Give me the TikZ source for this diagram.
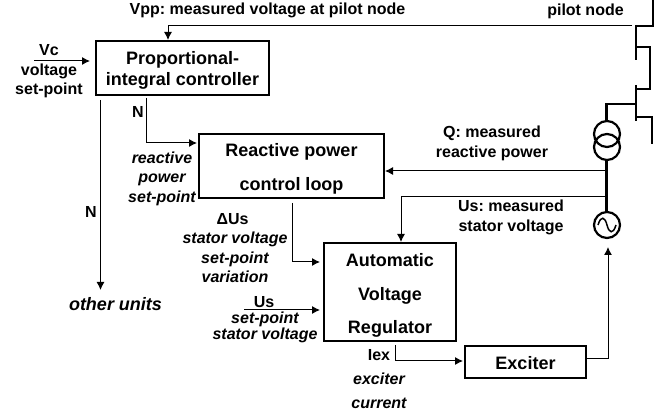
\documentclass[tikz,border=0pt]{standalone}
\usepackage{fontspec}
\setmainfont{Liberation Sans}
\usetikzlibrary{arrows.meta}
\newcommand\dnrule[1]{\rule{0pt}{#1pt}}
\tikzset{
  blockbox/.style={draw,line width=2pt,inner sep=0pt,align=center},
  lab/.style={inner sep=0pt,font=\bfseries\fontsize{16}{19.5}\selectfont,align=center},
  ilab/.style={inner sep=0pt,font=\bfseries\itshape\fontsize{16}{19.5}\selectfont,align=center},
  sig/.style={line width=1pt,-{Latex[length=8pt,width=8pt]}},
  bus/.style={line width=2.5pt},
}
\frenchspacing
\begin{document}
\frenchspacing
\begin{tikzpicture}[x=1pt,y=-1pt]
\useasboundingbox (0,0) rectangle (665,414);
\node[blockbox,minimum width=173pt,minimum height=54pt,font=\bfseries\fontsize{18}{21.5}\selectfont] (pi) at (182.5,68) {\dnrule{18}Proportional-\\integral controller};
\node[blockbox,minimum width=185pt,minimum height=64pt,font=\bfseries\fontsize{18}{34}\selectfont] (rp) at (291.5,166) {\dnrule{19}Reactive power\\control loop};
\node[blockbox,minimum width=132pt,minimum height=98pt,font=\bfseries\fontsize{18}{33.5}\selectfont] (avr) at (390,292) {\dnrule{20}Automatic\\Voltage\\Regulator};
\node[blockbox,minimum width=121pt,minimum height=32pt,font=\bfseries\fontsize{18}{21}\selectfont] (ex) at (525.5,362) {\dnrule{15}Exciter};
\node[lab] (tvpp) at (267.5,10) {Vpp: measured voltage at pilot node};
\node[lab] (tpn) at (585.5,11) {pilot node};
\node[lab,text width=90pt] (tvc) at (49,71.5) {Vc\\voltage\\set-point};
\node[lab] (tn1) at (138,112) {N};
\node[ilab] (trp) at (162,178.5) {reactive\\power\\set-point};
\node[lab] (tn2) at (91,212) {N};
\node[ilab,font=\bfseries\itshape\fontsize{18}{19}\selectfont] (tou) at (115.5,304) {other units};
\node[lab] (tdu) at (232.5,219) {ΔUs};
\node[ilab] (tdu2) at (235,257.5) {stator voltage\\set-point\\variation};
\node[lab] (tus) at (264,302) {Us};
\node[ilab,font=\bfseries\itshape\fontsize{16}{16}\selectfont] (tus2) at (265,327) {set-point\\stator voltage};
\node[lab] (tq) at (492,143.5) {Q: measured\\reactive power};
\node[lab] (tusm) at (511,217.5) {Us: measured\\stator voltage};
\node[lab] (tiex) at (379,355) {Iex};
\node[ilab,font=\bfseries\itshape\fontsize{16}{24}\selectfont] (tiex2) at (379,391) {exciter\\current};
\coordinate (cvpp) at (632,26);
\coordinate (cvc) at (34,61);
\coordinate (cpin) at (146,98);
\coordinate (cou) at (100.5,100);
\coordinate (couend) at (100.5,290);
\coordinate (crp) at (292,203);
\coordinate (cus) at (244,310);
\coordinate (cq) at (606,171);
\coordinate (cum) at (606,197);
\coordinate (cie) at (395,345);
\coordinate (cg) at (608,247);
\draw[sig] (cvpp) -- (168,26) -- (168,40);
\draw[sig] (cvc) -- (90,61);
\draw[sig] (cpin) -- (146,143) -- (197,143);
\draw[sig] (cou) -- (couend);
\draw[sig] (crp) -- (292,262) -- (320,262);
\draw[sig] (cus) -- (320,310);
\draw[sig] (cq) -- (385,171);
\draw[sig] (cum) -- (401,197) -- (401,242);
\draw[sig] (cie) -- (395,361) -- (463,361);
\draw[sig] (ex.east |- 0,359) -- (608,359) -- (cg);
\draw[bus] (636,25) -- (636,60);
\draw[bus] (636,26) -- (653,26) -- (653,0);
\draw[bus] (636,47) -- (650,47) -- (650,89) -- (636,89);
\draw[bus] (636,85) -- (636,121);
\draw[bus] (636,117) -- (652,117) -- (652,144);
\draw[bus] (636,104) -- (606.5,104) -- (606.5,122);
\draw[line width=2.2pt] (607,134) circle (13);
\draw[line width=2.2pt] (607,147) circle (13);
\draw[bus] (606.5,160) -- (606.5,212);
\draw[line width=2.2pt] (607,225) circle (13);
\draw[line width=1.5pt] (598,225) .. controls (601,215) and (605,217) .. (607,225) .. controls (609,233) and (613,235) .. (616,225);
\end{tikzpicture}
\end{document}
